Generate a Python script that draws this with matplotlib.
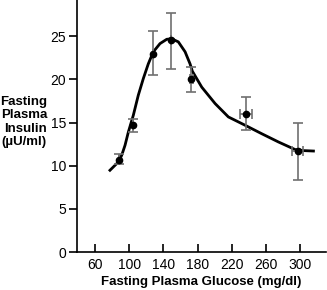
import matplotlib
matplotlib.use("Agg")
import matplotlib.pyplot as plt

plt.rcParams['font.family'] = ['Liberation Sans', 'DejaVu Sans']

# Data points (mean +/- SE)
glucose = [88, 104, 127.5, 149, 172.5, 236.5, 297]
insulin = [10.7, 14.7, 23.0, 24.6, 20.0, 16.0, 11.7]
ins_err_low = [0.5, 0.8, 2.5, 3.4, 1.5, 1.9, 3.3]
ins_err_high = [0.6, 0.75, 2.6, 3.1, 1.4, 2.0, 3.25]
glu_err = [0, 0, 0, 0, 1.5, 7, 6.5]

# Fitted curve
curve_x = [77.5, 87.3, 91.2, 95.1, 99, 104.8, 110.6, 116.5, 122.3, 128.2, 136,
           143.9, 149.7, 157.4, 165.3, 171.1, 173.8, 184.8, 200.4, 215.9, 235.6,
           255, 274.4, 293.9, 303.6, 315.3]
curve_y = [9.47, 10.43, 11.2, 12.36, 13.9, 15.84, 18.16, 20.1, 21.8, 23.2, 24.15,
           24.65, 24.7, 24.35, 23.2, 21.8, 20.95, 19.1, 17.2, 15.65, 14.68,
           13.7, 12.75, 11.87, 11.75, 11.7]

xticks = [60, 100, 140, 180, 220, 260, 300]
yticks = [0, 5, 10, 15, 20, 25]

fig = plt.figure(figsize=(3.27, 2.90), dpi=100)
ax = fig.add_axes([0.2355, 0.131, 0.7615, 0.869])

ax.plot(curve_x, curve_y, color='black', lw=2.0, zorder=2, solid_joinstyle='round')
ax.errorbar(glucose, insulin, yerr=[ins_err_low, ins_err_high], xerr=glu_err,
            fmt='o', color='black', ms=4.5, ecolor='#707070', elinewidth=1.2,
            capsize=3.5, capthick=1.2, zorder=3)

ax.set_xlim(39, 330)
ax.set_ylim(0, 29.2)
ax.set_xticks(xticks)
ax.set_yticks(yticks)
ax.spines['top'].set_visible(False)
ax.spines['right'].set_visible(False)
ax.spines['left'].set_linewidth(1.2)
ax.spines['bottom'].set_linewidth(1.2)
ax.tick_params(axis='y', direction='out', length=6, width=1.2, labelsize=10, pad=2)
ax.tick_params(axis='x', direction='in', length=6, width=1.2, labelsize=10, pad=4)

ax.set_xlabel('Fasting Plasma Glucose (mg/dl)', fontsize=9.5, fontweight='bold', labelpad=3)
fig.text(47 / 327, 1 - 122 / 290, 'Fasting\nPlasma\nInsulin\n(\u00b5U/ml)', ha='right',
         va='center', fontsize=9.5, fontweight='bold', linespacing=1.15)

fig.savefig('out.png', dpi=100)
